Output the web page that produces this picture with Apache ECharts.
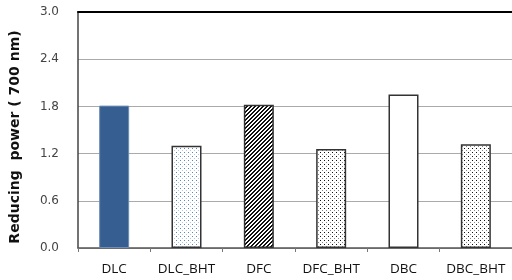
<!DOCTYPE html>
<html>
<head>
<meta charset="utf-8">
<script src="https://cdn.jsdelivr.net/npm/echarts@6/dist/echarts.min.js"></script>
<style>
  html, body { margin: 0; padding: 0; background: #fff; }
  #chart { width: 512px; height: 280px; }
</style>
</head>
<body>
<div id="chart"></div>
<script>
// samples + reducing power
const categories = ['DLC', 'DLC_BHT', 'DFC', 'DFC_BHT', 'DBC', 'DBC_BHT'];
const values = [1.81, 1.30, 1.82, 1.26, 1.95, 1.32];
const yTicks = [0, 0.6, 1.2, 1.8, 2.4, 3.0];

// small tiled patterns for the bar fills
function makePattern(draw) {
    const c = document.createElement('canvas');
    c.width = 4; c.height = 4;
    const ctx = c.getContext('2d');
    ctx.fillStyle = '#fff';
    ctx.fillRect(0, 0, 4, 4);
    draw(ctx);
    return { image: c, repeat: 'repeat' };
}

const bluedots = makePattern(ctx => {
    ctx.fillStyle = '#5a86c4'; ctx.fillRect(0, 0, 1, 1);
    ctx.fillStyle = '#b5c8e6'; ctx.fillRect(2, 2, 1, 1);
});
const graydots = makePattern(ctx => {
    ctx.fillStyle = '#111'; ctx.fillRect(0, 0, 1, 1);
    ctx.fillStyle = '#888'; ctx.fillRect(2, 2, 1, 1);
});
const stripes = makePattern(ctx => {
    ctx.fillStyle = '#111';
    for (let x = 0; x < 4; x++) {
        for (let y = 0; y < 4; y++) {
            if ((x + y) % 4 < 2) ctx.fillRect(x, y, 1, 1);
        }
    }
});

const styles = [
    { color: '#375e91', borderColor: '#6f8db5', borderWidth: 1 },
    { color: bluedots, borderColor: '#333', borderWidth: 1.5 },
    { color: stripes, borderColor: '#333', borderWidth: 1.5 },
    { color: graydots, borderColor: '#333', borderWidth: 1.5 },
    { color: '#fff', borderColor: '#333', borderWidth: 1.5 },
    { color: graydots, borderColor: '#333', borderWidth: 1.5 }
];

const chart = echarts.init(document.getElementById('chart'), null, { renderer: 'canvas' });

chart.setOption({
    animation: false,
    grid: { left: 76, top: 12, width: 438, bottom: 32 },
    xAxis: [{
        type: 'category',
        data: categories,
        axisLine: { lineStyle: { color: '#555', width: 1.5 } },
        axisTick: { show: true, length: 4, lineStyle: { color: '#777' } },
        axisLabel: { interval: 0, color: '#111', fontFamily: 'Open Sans', fontSize: 13.5, margin: 14 }
    }, {
        type: 'category',
        position: 'top',
        data: categories,
        axisLine: { lineStyle: { color: '#000', width: 2 } },
        axisTick: { show: false },
        axisLabel: { show: false }
    }],
    yAxis: {
        type: 'value',
        min: yTicks[0],
        max: yTicks[yTicks.length - 1],
        interval: 0.6,
        name: 'Reducing  power ( 700 nm)',
        nameLocation: 'middle',
        nameGap: 56,
        nameTextStyle: {
            color: '#111', fontWeight: 'bold', fontFamily: 'DejaVu Sans', fontSize: 14,
            padding: [0, 14, 0, 0]
        },
        axisLine: { show: true, lineStyle: { color: '#444', width: 1.5 } },
        axisTick: { show: false },
        axisLabel: {
            color: '#444', fontFamily: 'DejaVu Sans', fontSize: 12, margin: 19,
            formatter: v => v.toFixed(1)
        },
        splitLine: { lineStyle: { color: '#aaa', width: 1.2 } }
    },
    series: [{
        type: 'bar',
        barWidth: 30,
        data: values.map((v, i) => ({ value: v, itemStyle: styles[i] }))
    }]
});
</script>
</body>
</html>
